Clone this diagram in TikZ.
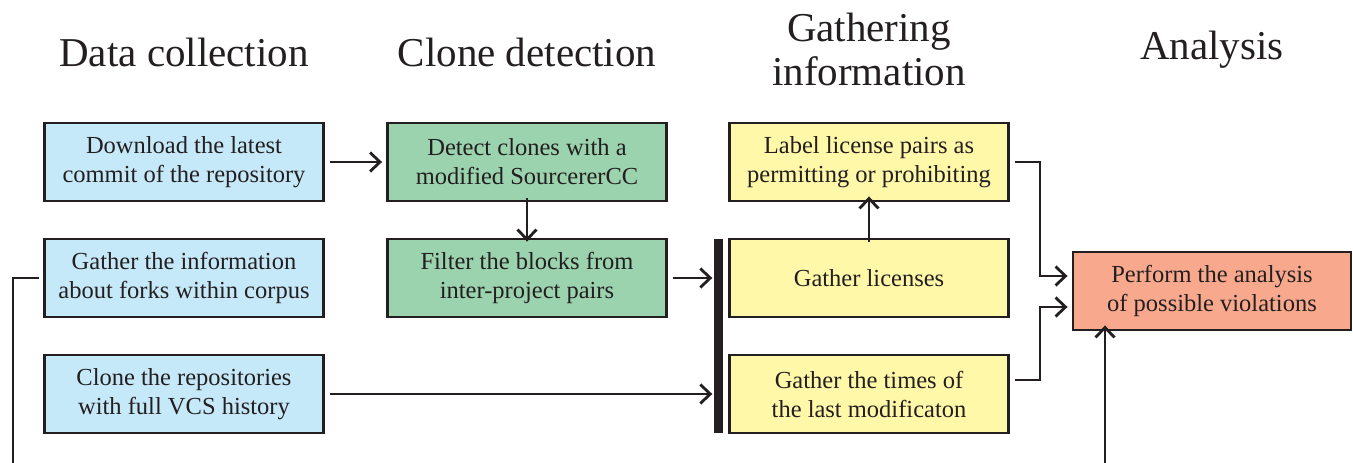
\documentclass[tikz,border=0pt]{standalone}
\usepackage{fontspec}
\setmainfont{Liberation Serif}
\usetikzlibrary{arrows.meta}
\definecolor{ink}{HTML}{231F20}
\definecolor{cblue}{HTML}{C6E9F9}
\definecolor{cgreen}{HTML}{9BD3AE}
\definecolor{cyellow}{HTML}{FFF8A8}
\definecolor{csalmon}{HTML}{F8A88C}
\tikzset{
  box/.style={draw=ink, line width=2.9pt, minimum width=279pt, minimum height=78pt, inner sep=0pt, align=center, text=ink,
    font=\fontsize{24.5}{29}\selectfont},
  title/.style={text=ink, align=center, font=\fontsize{41}{44}\selectfont},
  conn/.style={draw=ink, line width=2.8pt},
  arr/.style={conn, -{Straight Barb[length=10pt,width=19pt,line width=2.8pt]}},
}
\begin{document}
\begin{tikzpicture}[x=1pt,y=-1pt]
\useasboundingbox (0,0) rectangle (1353,463);
\node[title] (t1) at (184,52) {Data collection};
\node[title] (t2) at (527,52) {Clone detection};
\node[title] (t3) at (869,49) {Gathering\\information};
\node[title] (t4) at (1212,50) {Analysis};

\node[box, fill=cblue] (dl) at (184,162) {\raisebox{-2pt}{\parbox{279pt}{\centering Download the latest\\commit of the repository}}};
\node[box, fill=cblue] (fk) at (184,278) {\raisebox{-2pt}{\parbox{279pt}{\centering Gather the information\\about forks within corpus}}};
\node[box, fill=cblue] (cl) at (184,394) {\raisebox{-2pt}{\parbox{279pt}{\centering Clone the repositories\\with full VCS history}}};
\node[box, fill=cgreen] (dc) at (527,162) {\raisebox{-2pt}{\parbox{279pt}{\centering Detect clones with a\\modified SourcererCC}}};
\node[box, fill=cgreen] (fi) at (527,278) {\raisebox{-2pt}{\parbox{279pt}{\centering Filter the blocks from\\inter-project pairs}}};
\node[box, fill=cyellow] (lb) at (869,162) {\raisebox{-2pt}{\parbox{279pt}{\centering Label license pairs as\\permitting or prohibiting}}};
\node[box, fill=cyellow] (gl) at (869,278) {\raisebox{-2pt}{Gather licenses}};
\node[box, fill=cyellow] (gt) at (869,394) {\raisebox{-2pt}{\parbox{279pt}{\centering Gather the times of\\the last modificaton}}};
\node[box, fill=csalmon, minimum width=278pt] (an) at (1212,291) {\raisebox{-2pt}{\parbox{278pt}{\centering Perform the analysis\\of possible violations}}};

\node[fill=ink, minimum width=9pt, minimum height=194pt, inner sep=0pt] (bar) at (718,336) {};

\coordinate (fkb) at (13,463);
\coordinate (anb) at (1105,463);

\draw[arr] ([xshift=5pt]dl.east) -- ([xshift=-4pt]dc.west);
\draw[arr] ([yshift=4pt]dc.south) -- ([yshift=-4pt]fi.north);
\draw[arr] ([xshift=5pt]fi.east) -- ([xshift=-1pt]bar.west |- fi.east);
\draw[arr] ([xshift=5pt]cl.east) -- ([xshift=-1pt]bar.west |- cl.east);
\draw[arr] ([yshift=-4pt]gl.north) -- ([yshift=6pt]lb.south);
\draw[arr] ([xshift=5pt]lb.east) -| (1040,276) -- ([xshift=-4pt]an.west |- 0,276);
\draw[arr] ([xshift=5pt,yshift=14pt]gt.east) -| (1040,307) -- ([xshift=-4pt]an.west |- 0,307);
\draw[arr] (anb) -- ([yshift=6pt]an.south -| anb);
\draw[conn] ([xshift=-4pt]fk.west) -| (fkb);
\end{tikzpicture}
\end{document}
